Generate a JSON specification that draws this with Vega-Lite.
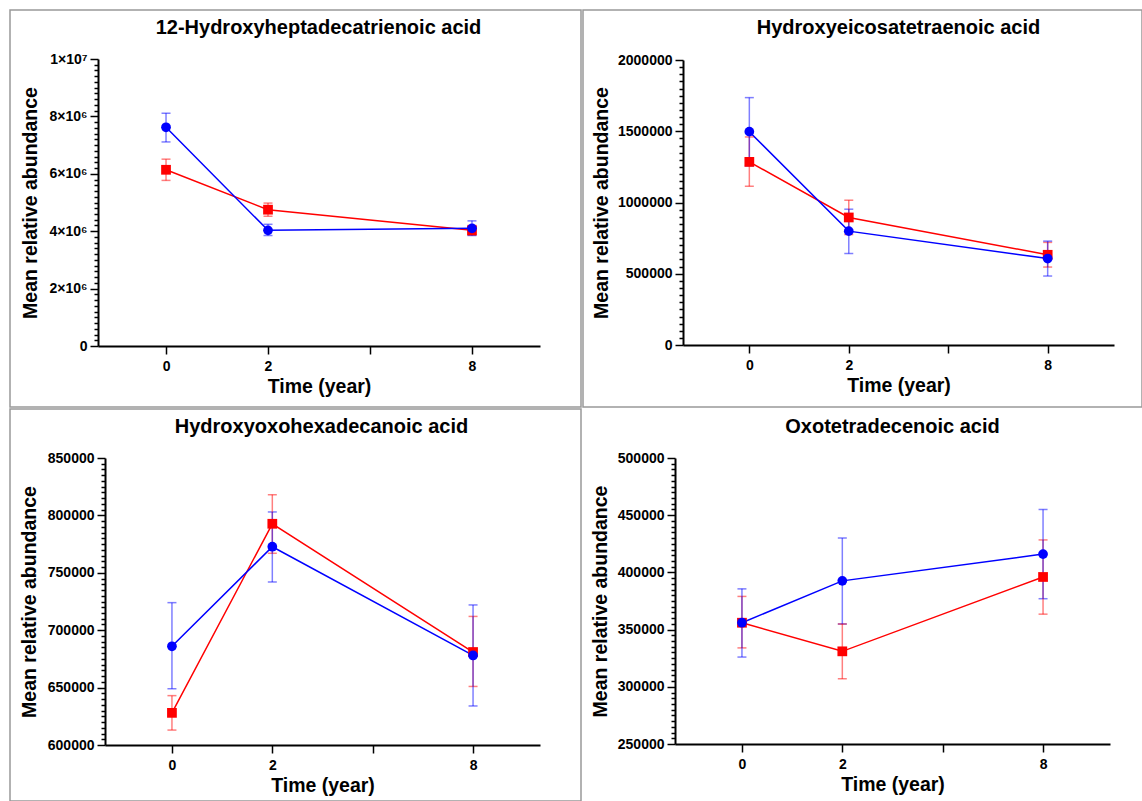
{
  "$schema": "https://vega.github.io/schema/vega-lite/v6.json",
  "padding": {"left": 9, "top": 9, "right": 0, "bottom": 0},
  "background": "white",
  "datasets": {
    "acids": [
      {"compound": "12-Hydroxyheptadecatrienoic acid", "series": "Series 2", "time": "0", "mean": 6140000, "lo": 5770000, "hi": 6510000},
      {"compound": "12-Hydroxyheptadecatrienoic acid", "series": "Series 2", "time": "2", "mean": 4750000, "lo": 4520000, "hi": 4980000},
      {"compound": "12-Hydroxyheptadecatrienoic acid", "series": "Series 2", "time": "8", "mean": 4030000, "lo": 3860000, "hi": 4200000},
      {"compound": "12-Hydroxyheptadecatrienoic acid", "series": "Series 1", "time": "0", "mean": 7620000, "lo": 7110000, "hi": 8110000},
      {"compound": "12-Hydroxyheptadecatrienoic acid", "series": "Series 1", "time": "2", "mean": 4030000, "lo": 3850000, "hi": 4240000},
      {"compound": "12-Hydroxyheptadecatrienoic acid", "series": "Series 1", "time": "8", "mean": 4100000, "lo": 3850000, "hi": 4360000},
      {"compound": "Hydroxyeicosatetraenoic acid", "series": "Series 2", "time": "0", "mean": 1285000, "lo": 1114000, "hi": 1460000},
      {"compound": "Hydroxyeicosatetraenoic acid", "series": "Series 2", "time": "2", "mean": 895000, "lo": 775000, "hi": 1016000},
      {"compound": "Hydroxyeicosatetraenoic acid", "series": "Series 2", "time": "8", "mean": 633000, "lo": 547000, "hi": 720000},
      {"compound": "Hydroxyeicosatetraenoic acid", "series": "Series 1", "time": "0", "mean": 1497000, "lo": 1257000, "hi": 1736000},
      {"compound": "Hydroxyeicosatetraenoic acid", "series": "Series 1", "time": "2", "mean": 799000, "lo": 642000, "hi": 953000},
      {"compound": "Hydroxyeicosatetraenoic acid", "series": "Series 1", "time": "8", "mean": 607000, "lo": 484000, "hi": 729000},
      {"compound": "Hydroxyoxohexadecanoic acid", "series": "Series 2", "time": "0", "mean": 628000, "lo": 613000, "hi": 643000},
      {"compound": "Hydroxyoxohexadecanoic acid", "series": "Series 2", "time": "2", "mean": 792700, "lo": 767000, "hi": 818000},
      {"compound": "Hydroxyoxohexadecanoic acid", "series": "Series 2", "time": "8", "mean": 681000, "lo": 651000, "hi": 712000},
      {"compound": "Hydroxyoxohexadecanoic acid", "series": "Series 1", "time": "0", "mean": 686000, "lo": 649000, "hi": 724000},
      {"compound": "Hydroxyoxohexadecanoic acid", "series": "Series 1", "time": "2", "mean": 772700, "lo": 742000, "hi": 803000},
      {"compound": "Hydroxyoxohexadecanoic acid", "series": "Series 1", "time": "8", "mean": 678000, "lo": 634000, "hi": 722000},
      {"compound": "Oxotetradecenoic acid", "series": "Series 2", "time": "0", "mean": 356000, "lo": 334000, "hi": 379000},
      {"compound": "Oxotetradecenoic acid", "series": "Series 2", "time": "2", "mean": 331000, "lo": 307000, "hi": 355000},
      {"compound": "Oxotetradecenoic acid", "series": "Series 2", "time": "8", "mean": 396000, "lo": 363500, "hi": 428400},
      {"compound": "Oxotetradecenoic acid", "series": "Series 1", "time": "0", "mean": 356000, "lo": 326000, "hi": 385600},
      {"compound": "Oxotetradecenoic acid", "series": "Series 1", "time": "2", "mean": 392600, "lo": 355000, "hi": 430000},
      {"compound": "Oxotetradecenoic acid", "series": "Series 1", "time": "8", "mean": 416000, "lo": 377000, "hi": 455000}
    ]
  },
  "spacing": 0,
  "vconcat": [
    {
      "spacing": 0,
      "hconcat": [
        {
          "width": 571, "height": 397,
          "title": {"text": "12-Hydroxyheptadecatrienoic acid", "dx": 23},
          "data": {"name": "acids"},
          "transform": [{"filter": "datum.compound === '12-Hydroxyheptadecatrienoic acid'"}],
          "encoding": {
            "x": {"field": "time", "type": "ordinal", "scale": {"type": "point", "domain": ["0", "2", "", "8"], "range": [88, 530], "padding": 0.667}, "axis": {"title": "Time (year)", "offset": -61, "labelAngle": 0, "labelPadding": 5, "titlePadding": 4}},
            "color": {"field": "series", "type": "nominal", "scale": {"domain": ["Series 1", "Series 2"], "range": ["#0000ff", "#ff0000"]}, "legend": null}
          },
          "layer": [
            {"mark": {"type": "line", "strokeWidth": 1.5},
             "encoding": {"y": {"field": "mean", "type": "quantitative", "title": "Mean relative abundance",
               "scale": {"domain": [0, 10000000], "range": [336, 49], "nice": false, "zero": false},
               "axis": {"offset": -88, "titlePadding": 9, "tickCount": 1000,
                 "values": [0,200000,400000,600000,800000,1000000,1200000,1400000,1600000,1800000,2000000,2200000,2400000,2600000,2800000,3000000,3200000,3400000,3600000,3800000,4000000,4200000,4400000,4600000,4800000,5000000,5200000,5400000,5600000,5800000,6000000,6200000,6400000,6600000,6800000,7000000,7200000,7400000,7600000,7800000,8000000,8200000,8400000,8600000,8800000,9000000,9200000,9400000,9600000,9800000,10000000],
                 "labelExpr": "datum.value % 2000000 === 0 ? (datum.value === 0 ? '0' : (datum.value === 10000000 ? '1×10⁷' : (datum.value / 1000000) + '×10⁶')) : ''",
                 "tickSize": {"condition": {"test": "datum.value % 2000000 === 0", "value": 8}, "value": 4}}}}},
            {"mark": {"type": "errorbar", "ticks": {"size": 9}, "thickness": 1.5, "opacity": 0.5},
             "encoding": {"y": {"field": "lo", "type": "quantitative", "title": "Mean relative abundance"}, "y2": {"field": "hi"}}},
            {"mark": {"type": "point", "filled": true, "size": 95, "opacity": 1},
             "encoding": {"y": {"field": "mean", "type": "quantitative", "title": "Mean relative abundance"},
               "shape": {"field": "series", "type": "nominal", "scale": {"domain": ["Series 1", "Series 2"], "range": ["circle", "square"]}, "legend": null}}}
          ]
        },
        {
          "width": 559, "height": 397,
          "title": {"text": "Hydroxyeicosatetraenoic acid", "dx": 36},
          "data": {"name": "acids"},
          "transform": [{"filter": "datum.compound === 'Hydroxyeicosatetraenoic acid'"}],
          "encoding": {
            "x": {"field": "time", "type": "ordinal", "scale": {"type": "point", "domain": ["0", "2", "", "8"], "range": [100, 531], "padding": 0.667}, "axis": {"title": "Time (year)", "offset": -62, "labelAngle": 0, "labelPadding": 5, "titlePadding": 4}},
            "color": {"field": "series", "type": "nominal", "scale": {"domain": ["Series 1", "Series 2"], "range": ["#0000ff", "#ff0000"]}, "legend": null}
          },
          "layer": [
            {"mark": {"type": "line", "strokeWidth": 1.5},
             "encoding": {"y": {"field": "mean", "type": "quantitative", "title": "Mean relative abundance",
               "scale": {"domain": [0, 2000000], "range": [335, 50], "nice": false, "zero": false},
               "axis": {"offset": -100, "titlePadding": 6, "tickCount": 1000,
                 "values": [0,50000,100000,150000,200000,250000,300000,350000,400000,450000,500000,550000,600000,650000,700000,750000,800000,850000,900000,950000,1000000,1050000,1100000,1150000,1200000,1250000,1300000,1350000,1400000,1450000,1500000,1550000,1600000,1650000,1700000,1750000,1800000,1850000,1900000,1950000,2000000],
                 "labelExpr": "datum.value % 500000 === 0 ? format(datum.value, 'd') : ''",
                 "tickSize": {"condition": {"test": "datum.value % 500000 === 0", "value": 8}, "value": 4}}}}},
            {"mark": {"type": "errorbar", "ticks": {"size": 9}, "thickness": 1.5, "opacity": 0.5},
             "encoding": {"y": {"field": "lo", "type": "quantitative", "title": "Mean relative abundance"}, "y2": {"field": "hi"}}},
            {"mark": {"type": "point", "filled": true, "size": 95, "opacity": 1},
             "encoding": {"y": {"field": "mean", "type": "quantitative", "title": "Mean relative abundance"},
               "shape": {"field": "series", "type": "nominal", "scale": {"domain": ["Series 1", "Series 2"], "range": ["circle", "square"]}, "legend": null}}}
          ]
        }
      ]
    },
    {
      "spacing": 0,
      "hconcat": [
        {
          "width": 571, "height": 392,
          "title": {"text": "Hydroxyoxohexadecanoic acid", "dx": 26},
          "data": {"name": "acids"},
          "transform": [{"filter": "datum.compound === 'Hydroxyoxohexadecanoic acid'"}],
          "encoding": {
            "x": {"field": "time", "type": "ordinal", "scale": {"type": "point", "domain": ["0", "2", "", "8"], "range": [95, 530], "padding": 0.667}, "axis": {"title": "Time (year)", "offset": -56, "labelAngle": 0, "labelPadding": 5, "titlePadding": 4}},
            "color": {"field": "series", "type": "nominal", "scale": {"domain": ["Series 1", "Series 2"], "range": ["#0000ff", "#ff0000"]}, "legend": null}
          },
          "layer": [
            {"mark": {"type": "line", "strokeWidth": 1.5},
             "encoding": {"y": {"field": "mean", "type": "quantitative", "title": "Mean relative abundance",
               "scale": {"domain": [600000, 850000], "range": [336, 49], "nice": false, "zero": false},
               "axis": {"offset": -95, "titlePadding": 8, "tickCount": 1000,
                 "values": [600000,605000,610000,615000,620000,625000,630000,635000,640000,645000,650000,655000,660000,665000,670000,675000,680000,685000,690000,695000,700000,705000,710000,715000,720000,725000,730000,735000,740000,745000,750000,755000,760000,765000,770000,775000,780000,785000,790000,795000,800000,805000,810000,815000,820000,825000,830000,835000,840000,845000,850000],
                 "labelExpr": "datum.value % 50000 === 0 ? format(datum.value, 'd') : ''",
                 "tickSize": {"condition": {"test": "datum.value % 50000 === 0", "value": 8}, "value": 4}}}}},
            {"mark": {"type": "errorbar", "ticks": {"size": 9}, "thickness": 1.5, "opacity": 0.5},
             "encoding": {"y": {"field": "lo", "type": "quantitative", "title": "Mean relative abundance"}, "y2": {"field": "hi"}}},
            {"mark": {"type": "point", "filled": true, "size": 95, "opacity": 1},
             "encoding": {"y": {"field": "mean", "type": "quantitative", "title": "Mean relative abundance"},
               "shape": {"field": "series", "type": "nominal", "scale": {"domain": ["Series 1", "Series 2"], "range": ["circle", "square"]}, "legend": null}}}
          ]
        },
        {
          "width": 559, "height": 392,
          "view": {"stroke": null},
          "title": {"text": "Oxotetradecenoic acid", "dx": 31},
          "data": {"name": "acids"},
          "transform": [{"filter": "datum.compound === 'Oxotetradecenoic acid'"}],
          "encoding": {
            "x": {"field": "time", "type": "ordinal", "scale": {"type": "point", "domain": ["0", "2", "", "8"], "range": [93, 528], "padding": 0.667}, "axis": {"title": "Time (year)", "offset": -57, "labelAngle": 0, "labelPadding": 5, "titlePadding": 4}},
            "color": {"field": "series", "type": "nominal", "scale": {"domain": ["Series 1", "Series 2"], "range": ["#0000ff", "#ff0000"]}, "legend": null}
          },
          "layer": [
            {"mark": {"type": "line", "strokeWidth": 1.5},
             "encoding": {"y": {"field": "mean", "type": "quantitative", "title": "Mean relative abundance",
               "scale": {"domain": [250000, 500000], "range": [335, 49], "nice": false, "zero": false},
               "axis": {"offset": -93, "titlePadding": 7, "tickCount": 1000,
                 "values": [250000,255000,260000,265000,270000,275000,280000,285000,290000,295000,300000,305000,310000,315000,320000,325000,330000,335000,340000,345000,350000,355000,360000,365000,370000,375000,380000,385000,390000,395000,400000,405000,410000,415000,420000,425000,430000,435000,440000,445000,450000,455000,460000,465000,470000,475000,480000,485000,490000,495000,500000],
                 "labelExpr": "datum.value % 50000 === 0 ? format(datum.value, 'd') : ''",
                 "tickSize": {"condition": {"test": "datum.value % 50000 === 0", "value": 8}, "value": 4}}}}},
            {"mark": {"type": "errorbar", "ticks": {"size": 9}, "thickness": 1.5, "opacity": 0.5},
             "encoding": {"y": {"field": "lo", "type": "quantitative", "title": "Mean relative abundance"}, "y2": {"field": "hi"}}},
            {"mark": {"type": "point", "filled": true, "size": 95, "opacity": 1},
             "encoding": {"y": {"field": "mean", "type": "quantitative", "title": "Mean relative abundance"},
               "shape": {"field": "series", "type": "nominal", "scale": {"domain": ["Series 1", "Series 2"], "range": ["circle", "square"]}, "legend": null}}}
          ]
        }
      ]
    }
  ],
  "config": {
    "view": {"stroke": "#999999", "strokeWidth": 1.5},
    "font": "Liberation Sans",
    "title": {"font": "Liberation Sans", "fontSize": 20, "fontWeight": "bold", "color": "#000000", "frame": "group", "anchor": "middle", "baseline": "middle", "offset": -28},
    "axis": {
      "labelFont": "Liberation Sans", "labelFontSize": 14, "labelFontWeight": "bold", "labelColor": "#000000",
      "titleFont": "Liberation Sans", "titleFontSize": 19.5, "titleFontWeight": "bold", "titleColor": "#000000",
      "domainColor": "#000000", "domainWidth": 2, "tickColor": "#000000", "tickWidth": 1.5, "tickSize": 8,
      "grid": false, "labelOverlap": false, "labelBound": false, "labelFlush": false, "labelPadding": 3
    }
  }
}
